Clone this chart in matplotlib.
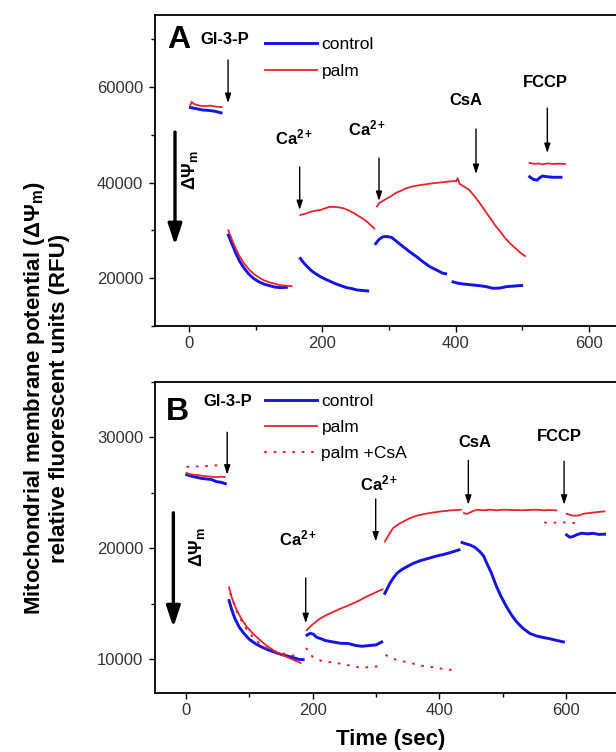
import numpy as np
import matplotlib
matplotlib.use("Agg")
import matplotlib.pyplot as plt
from matplotlib.ticker import MultipleLocator

plt.rcParams['font.family'] = ['Liberation Sans', 'DejaVu Sans']
plt.rcParams['mathtext.fontset'] = 'custom'
plt.rcParams['mathtext.rm'] = 'Liberation Sans'
plt.rcParams['mathtext.bf'] = 'Liberation Sans:bold'
plt.rcParams['mathtext.it'] = 'Liberation Sans:italic'

GAP = np.nan

# ---------------- Panel A: RFU traces (time in s) ----------------
a_control_t = [2, 10, 20, 30, 40, 48, GAP,
               59, 64, 70, 76, 83, 90, 97, 105, 113, 121, 129, 137, 146, GAP,
               167, 172, 178, 184, 190, 197, 204, 212, 220, 228, 236, 244, 252, 260, 268, GAP,
               280, 285, 291, 297, 304, 312, 321, 331, 341, 351, 361, 371, 381, 385, GAP,
               396, 404, 412, 422, 436, 446, 456, 466, 476, 486, 494, 499, GAP,
               511, 516, 522, 526, 530, 538, 546, 558]
a_control_v = [55700, 55500, 55200, 55100, 54900, 54600, GAP,
               29000, 27300, 25300, 23500, 22000, 20800, 19900, 19200, 18700, 18400, 18100, 18000, 18050, GAP,
               24100, 23200, 22300, 21500, 20900, 20300, 19800, 19300, 18800, 18400, 18000, 17800, 17500, 17400, 17300, GAP,
               27200, 28100, 28650, 28700, 28500, 27600, 26600, 25500, 24500, 23400, 22400, 21700, 21000, 20900, GAP,
               19200, 18900, 18750, 18600, 18400, 18200, 17850, 17900, 18200, 18300, 18400, 18450, GAP,
               41200, 40700, 40500, 41000, 41350, 41200, 41100, 41100]

a_palm_t = [2, 4, 8, 16, 24, 32, 40, 49, GAP,
            59, 64, 70, 76, 83, 90, 97, 105, 113, 121, 129, 137, 145, 154, GAP,
            167, 175, 183, 190, 197, 204, 211, 218, 225, 232, 239, 246, 253, 260, 267, 273, 278, GAP,
            282, 285, 290, 296, 302, 310, 318, 326, 336, 346, 356, 366, 376, 386, 396, 401,
            403, 406, 412, 420, 428, 436, 444, 452, 460, 467, 474, 482, 490, 497, 504, GAP,
            511, 518, 524, 530, 538, 546, 555, 564]
a_palm_v = [56200, 56900, 56400, 56100, 56000, 56100, 55900, 55800, GAP,
            30000, 28200, 26200, 24500, 23000, 21800, 20900, 20100, 19500, 19100, 18800, 18500, 18400, 18300, GAP,
            33200, 33500, 33900, 34100, 34250, 34600, 34900, 34900, 34800, 34600, 34200, 33700, 33100, 32500, 31800, 31000, 30400, GAP,
            35000, 35700, 36100, 36600, 37050, 37800, 38300, 38800, 39200, 39450, 39650, 39850, 40000, 40150, 40300, 40300,
            40900, 39700, 39200, 38500, 37200, 35700, 34100, 32500, 30900, 29700, 28400, 27200, 26200, 25300, 24600, GAP,
            44100, 43900, 44000, 43800, 44000, 43900, 43950, 43900]

# ---------------- Panel B: RFU traces (time in s) ----------------
b_control_t = [1, 8, 16, 24, 32, 40, 48, 55, 62, GAP,
               68, 72, 77, 84, 92, 100, 110, 120, 130, 140, 150, 160, 170, 178, 185, GAP,
               191, 196, 201, 206, 212, 220, 232, 244, 256, 268, 278, 290, 300, 309, GAP,
               314, 318, 322, 327, 333, 341, 349, 359, 370, 383, 396, 407, 417, 425, 431, GAP,
               436, 442, 448, 456, 464, 470, 475, 482, 490, 498, 506, 514, 522, 532, 543, 554, 564, 575, 586, 596, GAP,
               601, 606, 611, 618, 625, 634, 643, 652, 661]
b_control_v = [26630, 26500, 26400, 26300, 26240, 26200, 26000, 25950, 25820, GAP,
               15300, 14500, 13700, 12900, 12300, 11800, 11400, 11100, 10850, 10650, 10450, 10300, 10150, 10000, 9980, GAP,
               12180, 12350, 12270, 12000, 11880, 11700, 11570, 11450, 11430, 11250, 11180, 11250, 11300, 11570, GAP,
               15940, 16400, 16850, 17300, 17750, 18100, 18350, 18650, 18890, 19100, 19310, 19450, 19610, 19750, 19860, GAP,
               20520, 20400, 20310, 20100, 19700, 19300, 18650, 17800, 16600, 15600, 14750, 14000, 13380, 12800, 12330, 12100, 11970, 11850, 11700, 11570, GAP,
               21210, 21000, 21060, 21250, 21360, 21300, 21350, 21250, 21270]

b_palm_t = [1, 8, 16, 24, 32, 40, 48, 55, 61, GAP,
            68, 72, 76, 80, 88, 96, 106, 117, 127, 138, 148, 159, 170, 181, GAP,
            190.5, 196, 202, 212, 222, 233, 243, 254, 264, 275, 285, 296, 304, 310, GAP,
            314, 318, 322, 327, 335, 343, 353, 364, 377, 391, 404, 417, 430, 434, GAP,
            439, 443, 447, 453, 459, 470, 480, 490, 501, 515, 530, 545, 554, 565, 575, 585, GAP,
            601, 607, 613, 620, 627, 633, 640, 648, 655, 661]
b_palm_v = [26780, 26650, 26600, 26550, 26480, 26450, 26400, 26450, 26420, GAP,
            16490, 15600, 15000, 14440, 13600, 12930, 12300, 11730, 11250, 10820, 10500, 10220, 9950, 9680, GAP,
            12630, 12950, 13250, 13690, 14000, 14290, 14550, 14800, 15050, 15340, 15650, 15940, 16150, 16310, GAP,
            20610, 21000, 21400, 21820, 22150, 22410, 22700, 22930, 23100, 23230, 23330, 23410, 23460, 23470, GAP,
            23170, 23100, 23170, 23350, 23470, 23420, 23480, 23420, 23470, 23450, 23430, 23460, 23470, 23420, 23450, 23410, GAP,
            23110, 23000, 22930, 22950, 23100, 23150, 23200, 23250, 23300, 23320]

b_palmcsa_t = [2, 10, 20, 30, 40, 50, 58, GAP,
               70, 80, 92, 104, 116, 128, 140, 152, 164, 176, GAP,
               190, 200, 214, 228, 243, 258, 275, 290, 304, GAP,
               316, 330, 345, 360, 375, 390, 405, 426, GAP,
               567, 580, 593, 608, 622]
b_palmcsa_v = [27330, 27360, 27380, 27400, 27450, 27480, 27530, GAP,
               15900, 14300, 13000, 12100, 11450, 11000, 10750, 10550, 10400, 10300, GAP,
               10980, 10220, 9860, 9750, 9620, 9450, 9260, 9300, 9380, GAP,
               10370, 10000, 9800, 9600, 9400, 9300, 9150, 9000, GAP,
               22320, 22300, 22350, 22300, 22250]

# additions: label, time of addition
a_additions = ['Gl-3-P', 'Ca2+', 'Ca2+', 'CsA', 'FCCP']
a_add_time = [58.6, 166, 285, 430.5, 537.5]
b_additions = ['Gl-3-P', 'Ca2+', 'Ca2+', 'CsA', 'FCCP']
b_add_time = [65, 189, 299.5, 445.8, 597]

BLUE = '#1414e6'
RED = '#e8232b'
TICK_GREY = '#333333'

fig = plt.figure(figsize=(6.16, 7.52), dpi=100)
axA = fig.add_axes([155 / 616, (752 - 325.8) / 752, 465 / 616, 310.4 / 752])
axB = fig.add_axes([155 / 616, (752 - 692.7) / 752, 465 / 616, 311 / 752])


def style_axes(ax, xlim, ylim, ymajor, yminor):
    ax.set_xlim(*xlim)
    ax.set_ylim(*ylim)
    ax.xaxis.set_major_locator(MultipleLocator(200))
    ax.xaxis.set_minor_locator(MultipleLocator(100))
    ax.yaxis.set_major_locator(MultipleLocator(ymajor))
    ax.yaxis.set_minor_locator(MultipleLocator(yminor))
    ax.spines['right'].set_visible(False)
    for s in ('left', 'top', 'bottom'):
        ax.spines[s].set_linewidth(1.3)
    ax.tick_params(which='major', direction='out', length=4.5, width=1.0,
                   labelsize=12, labelcolor=TICK_GREY, pad=3)
    ax.tick_params(which='minor', direction='out', length=2.8, width=1.0)
    ax.tick_params(axis='y', pad=4)
    ax.set_facecolor('white')


style_axes(axA, (-51, 646.5), (10000, 75000), 20000, 10000)
style_axes(axB, (-49, 685.3), (7000, 35000), 10000, 5000)

# traces
axA.plot(a_control_t, a_control_v, color=BLUE, lw=2.1, label='control')
axA.plot(a_palm_t, a_palm_v, color=RED, lw=1.3, label='palm')

axB.plot(b_control_t, b_control_v, color=BLUE, lw=2.1, label='control')
axB.plot(b_palm_t, b_palm_v, color=RED, lw=1.3, label='palm')
axB.plot(b_palmcsa_t, b_palmcsa_v, color=RED, lw=1.5,
         linestyle=(0, (0.5, 4.0)), dash_capstyle='round', label='palm +CsA')


def ca_label(s):
    if s == 'Ca2+':
        return r'$\mathbf{Ca^{2+}}$'
    return s


def add_events(ax, names, times, arrow_spans, label_pos):
    for name, t, (y0, y1), (lx, ly) in zip(names, times, arrow_spans, label_pos):
        ax.annotate('', xy=(t, y1), xytext=(t, y0),
                    arrowprops=dict(arrowstyle='-|>,head_length=0.55,head_width=0.18',
                                    lw=1.0, color='black', shrinkA=0, shrinkB=0))
        ax.text(lx, ly, ca_label(name), ha='center', va='center',
                fontsize=12, fontweight='bold')


add_events(axA, a_additions, a_add_time,
           [(65650, 56650), (43250, 34240), (45130, 36130), (51200, 41780), (55600, 46180)],
           [(54, 70050), (157.5, 49530), (267.7, 51410), (416, 57280), (534.7, 61050)])
add_events(axB, b_additions, b_add_time,
           [(30450, 26630), (17330, 13260), (24440, 20610), (27920, 23920), (27830, 23920)],
           [(65.5, 33220), (176.8, 20850), (304.7, 25820), (456.3, 29550), (589.8, 30090)])

# panel letters
axA.text(-15.4, 69840, 'A', ha='center', va='center', fontsize=23, fontweight='bold')
axB.text(-14.2, 32280, 'B', ha='center', va='center', fontsize=23, fontweight='bold')

# membrane-potential direction arrows
for ax, x, y0, y1, tx, ty in [(axA, -21, 50580, 26920, 1.5, 42620),
                              (axB, -20, 23200, 12900, 16.9, 20150)]:
    ax.annotate('', xy=(x, y1), xytext=(x, y0),
                arrowprops=dict(arrowstyle='-|>,head_length=0.9,head_width=0.3',
                                lw=2.4, color='black', shrinkA=0, shrinkB=0,
                                mutation_scale=14))
    ax.text(tx, ty, r'$\mathbf{\Delta\Psi_m}$', rotation=90, ha='center', va='center',
            fontsize=13)

# legends
axA.legend(loc='upper left', bbox_to_anchor=(0.2366, 0.932), frameon=False,
           fontsize=12.5, handlelength=3.0, handletextpad=0.25,
           labelspacing=0.68, borderpad=0, borderaxespad=0)
axB.legend(loc='upper left', bbox_to_anchor=(0.2366, 0.960), frameon=False,
           fontsize=12.5, handlelength=3.0, handletextpad=0.25,
           labelspacing=0.62, borderpad=0, borderaxespad=0)

# shared axis titles
fig.text(46 / 616, (752 - 398) / 752,
         'Mitochondrial membrane potential ($\\mathbf{\\Delta\\Psi_m}$)\nrelative fluorescent units (RFU)',
         rotation=90, ha='center', va='center', fontsize=16, fontweight='bold',
         linespacing=1.15)
fig.text(391 / 616, (752 - 740) / 752, 'Time (sec)', ha='center', va='center',
         fontsize=16, fontweight='bold')

fig.savefig('out.png', dpi=100, facecolor='white')
